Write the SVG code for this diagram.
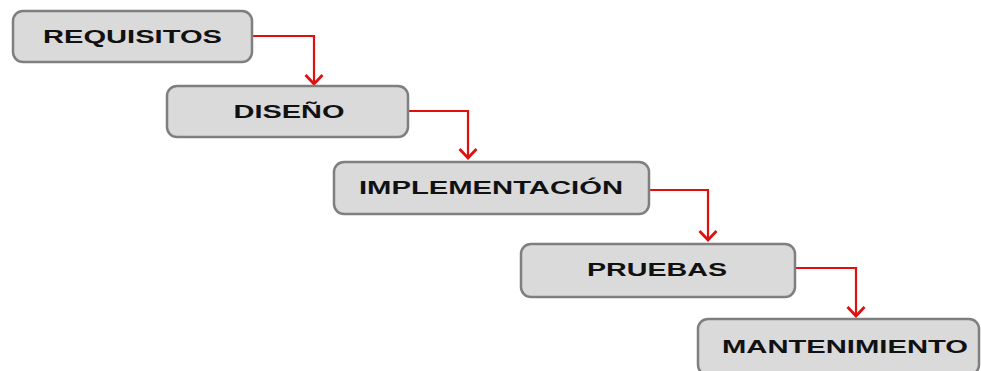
<svg xmlns="http://www.w3.org/2000/svg" width="981" height="371" viewBox="0 0 981 371">
<style>
.box{fill:#dadada;stroke:#7f7f7f;stroke-width:2.5}
.lbl{font-family:"Liberation Sans",Arial,sans-serif;font-weight:bold;font-size:18.5px;fill:#111;text-anchor:middle}
.con{fill:none;stroke:#e01010;stroke-width:2.2;marker-end:url(#ah)}
</style>
<defs>
<marker id="ah" viewBox="-12 -12 14 24" refX="0" refY="0" markerWidth="14" markerHeight="24" markerUnits="userSpaceOnUse" orient="auto">
<path d="M-9,-8.5 L0,0 L-9,8.5" fill="none" stroke="#e01010" stroke-width="2.8"/>
</marker>
</defs>
<rect width="981" height="371" fill="#fff"/>
<g id="connectors">
<path class="con" d="M252,36 H314 V84"/>
<path class="con" d="M408,111 H468 V158"/>
<path class="con" d="M649,190 H708 V240"/>
<path class="con" d="M795,268 H856 V316"/>
</g>
<g id="requisitos">
<rect class="box" x="13" y="11" width="239" height="51" rx="10"/>
<text class="lbl" x="132.5" y="43" textLength="179" lengthAdjust="spacingAndGlyphs">REQUISITOS</text>
</g>
<g id="diseno">
<rect class="box" x="167" y="86" width="241" height="51" rx="10"/>
<text class="lbl" x="289" y="118" textLength="111" lengthAdjust="spacingAndGlyphs">DISEÑO</text>
</g>
<g id="implementacion">
<rect class="box" x="334" y="162" width="315" height="52" rx="10"/>
<text class="lbl" x="491" y="194" textLength="264" lengthAdjust="spacingAndGlyphs">IMPLEMENTACIÓN</text>
</g>
<g id="pruebas">
<rect class="box" x="521" y="244" width="274" height="53" rx="10"/>
<text class="lbl" x="657" y="276" textLength="140" lengthAdjust="spacingAndGlyphs">PRUEBAS</text>
</g>
<g id="mantenimiento">
<rect class="box" x="698" y="319" width="281" height="56" rx="10"/>
<text class="lbl" x="845" y="353" textLength="246" lengthAdjust="spacingAndGlyphs">MANTENIMIENTO</text>
</g>
</svg>
